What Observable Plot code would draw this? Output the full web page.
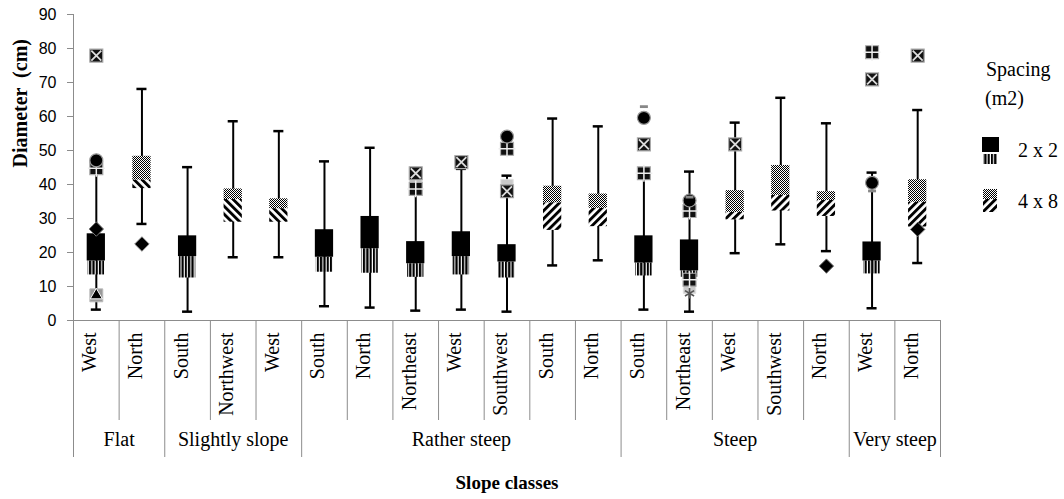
<!DOCTYPE html>
<html><head><meta charset="utf-8">
<script src="https://cdn.jsdelivr.net/npm/d3@7"></script>
<script src="https://cdn.jsdelivr.net/npm/@observablehq/plot@0.6"></script>
<style>
body{margin:0;background:#fff;}
#wrap{position:relative;width:1064px;height:499px;overflow:hidden;}
#chart svg text{white-space:pre;}
.lg{position:absolute;font-family:"Liberation Serif",serif;font-size:20px;color:#000;line-height:1;white-space:pre;}
</style></head>
<body>
<svg width="0" height="0" style="position:absolute">
<defs>
 <pattern id="vstripes" patternUnits="userSpaceOnUse" width="3.3" height="10"><rect width="3.3" height="10" fill="#fff"/><rect width="2.2" height="10" fill="#000"/></pattern>
 <pattern id="dots" patternUnits="userSpaceOnUse" width="2" height="2"><rect width="2" height="2" fill="#fff"/><rect width="1" height="1" fill="#000"/><rect x="1" y="1" width="1" height="1" fill="#000"/></pattern>
 <pattern id="hatchF" patternUnits="userSpaceOnUse" width="5.6" height="10" patternTransform="rotate(45)"><rect width="5.6" height="10" fill="#fff"/><rect width="2.9" height="10" fill="#000"/></pattern>
 <pattern id="hatchB" patternUnits="userSpaceOnUse" width="5.6" height="10" patternTransform="rotate(-45)"><rect width="5.6" height="10" fill="#fff"/><rect width="2.9" height="10" fill="#000"/></pattern>
</defs></svg>
<div id="wrap">
 <div id="chart"></div>
 <div class="lg" style="left:986px;top:59px;">Spacing</div>
 <div class="lg" style="left:985px;top:88px;">(m2)</div>
 <svg style="position:absolute;left:981px;top:136px" width="20" height="30"><rect x="1" y="1" width="17" height="15" fill="#000"/><rect x="2" y="18" width="14" height="10" fill="url(#vstripes)"/></svg>
 <div class="lg" style="left:1018px;top:140px;">2 x 2</div>
 <svg style="position:absolute;left:981px;top:188px" width="20" height="30"><rect x="2" y="1" width="14" height="10" fill="url(#dots)"/><rect x="2" y="11" width="14" height="13" fill="url(#hatchF)"/></svg>
 <div class="lg" style="left:1018px;top:191px;">4 x 8</div>
</div>
<script>
// ---- data ----
const groups = ["Flat","Flat","Slightly slope","Slightly slope","Slightly slope","Rather steep","Rather steep","Rather steep","Rather steep","Rather steep","Rather steep","Rather steep","Steep","Steep","Steep","Steep","Steep","Very steep","Very steep"];
const directions = ["West","North","South","Northwest","West","South","North","Northeast","West","Southwest","South","North","South","Northeast","West","Southwest","North","West","North"];
const spacing = ["2 x 2","4 x 8","2 x 2","4 x 8","4 x 8","2 x 2","2 x 2","2 x 2","2 x 2","2 x 2","4 x 8","4 x 8","2 x 2","2 x 2","4 x 8","4 x 8","4 x 8","2 x 2","4 x 8"];
const whiskerLow  = [3.2, 28.4, 2.6, 18.6, 18.6, 4.2, 3.8, 2.9, 3.2, 2.6, 16.2, 17.7, 3.2, 2.6, 19.8, 22.4, 20.4, 3.6, 16.9];
const q1          = [13.4, 38.8, 12.5, 28.9, 28.9, 14.2, 13.9, 12.7, 13.4, 12.5, 26.5, 27.6, 13.1, 12.7, 29.6, 32.2, 30.6, 13.7, 27.5];
const median      = [17.5, 41.3, 18.8, 35.6, 32.9, 18.6, 21.1, 16.7, 18.8, 17.2, 34.6, 33.0, 16.9, 14.6, 31.8, 36.8, 35.3, 17.5, 34.8];
const q3          = [25.5, 48.3, 24.9, 38.7, 35.8, 26.7, 30.6, 23.2, 26.1, 22.3, 39.5, 37.2, 24.9, 23.7, 38.2, 45.6, 37.9, 23.1, 41.4];
const whiskerHigh = [44.8, 68.1, 45.1, 58.6, 55.7, 46.8, 50.8, 38.7, 44.6, 42.6, 59.4, 57.1, 43.3, 43.8, 58.2, 65.5, 58.0, 43.5, 61.9];
const backslashGroups = ["Flat","Slightly slope"];
const outlierCat   = [0,0,0,0,0, 1, 7,7,7, 8, 9,9,9,9, 12,12,12,12, 13,13,13,13,13,13, 14, 16, 17,17,17,17, 18,18];
const outlierValue = [77.9,47.1,44.8,26.9,7.4, 22.5, 43.3,40.4,38.7, 46.6, 54.1,50.5,39.7,38.0, 62.9,59.6,51.8,43.3, 36.3,35.3,32.2,12.0,9.8,8.0, 51.8, 16.0, 78.9,70.9,40.5,38.1, 77.9,26.8];
const outlierShape = ["xsq","circle","plussq","diamond","trisq", "diamond", "xsq","graysq","plussq", "xsq", "circle","plussq","graysq","xsq", "dash","circle","xsq","plussq", "dash","circle","plussq","plussq","graysq","asterisk", "xsq","diamond", "plussq","xsq","circle","dash", "xsq","diamond"];
const yTicks = [0,10,20,30,40,50,60,70,80,90];
const yTitle = "Diameter  (cm)";
const xTitle = "Slope classes";

// ---- layout ----
const W = 1064, H = 499, ML = 73, MR = 124, MT = 14, MB = 179;
const N = directions.length;
const YMAX = 90;
const pxPerUnit = (H - MB - MT) / YMAX;
const belowAxis = px => -px / pxPerUnit;   // data value px pixels below the zero line
const BOX = 0.2, STRIPE = 0.18, CAP = 0.11;
const GRAY = "#8c8c8c";
const SERIF = "Liberation Serif";

const boxes = d3.range(N).map(i => ({i, group: groups[i], dir: directions[i], sp: spacing[i],
  lo: whiskerLow[i], q1: q1[i], med: median[i], q3: q3[i], hi: whiskerHigh[i]}));
const b22 = boxes.filter(d => d.sp === "2 x 2");
const b48 = boxes.filter(d => d.sp === "4 x 8");
const outliers = outlierCat.map((c, k) => ({i: c, v: outlierValue[k], s: outlierShape[k]}));
const sh = s => outliers.filter(d => d.s === s);

const catBounds = [], groupBounds = [-0.5, N - 0.5];
for (let i = 1; i < N; i++) (groups[i] === groups[i-1] ? catBounds : groupBounds).push(i - 0.5);
const groupNames = [...new Set(groups)];
const groupLabels = groupNames.map(g => {
  const ids = d3.range(N).filter(i => groups[i] === g);
  return {g, c: (ids[0] + ids[ids.length - 1]) / 2};
});

const dashSymbol = {draw(ctx, size) { const r = Math.sqrt(size / Math.PI);
  ctx.moveTo(-r, -r*0.35); ctx.lineTo(r, -r*0.35); ctx.lineTo(r, r*0.35); ctx.lineTo(-r, r*0.35); ctx.closePath(); }};

const plot = Plot.plot({
  width: W, height: H,
  marginLeft: ML, marginRight: MR, marginTop: MT, marginBottom: MB,
  style: {fontFamily: SERIF, fontSize: "20px", background: "#fff", overflow: "visible"},
  x: {type: "linear", domain: [-0.5, N - 0.5], axis: null},
  y: {domain: [0, YMAX], axis: null},
  marks: [
    // table lines
    Plot.ruleX(catBounds, {y1: 0, y2: belowAxis(100), stroke: GRAY}),
    Plot.ruleX(groupBounds, {y1: 0, y2: belowAxis(137), stroke: GRAY}),
    Plot.ruleX([-0.5], {stroke: GRAY}),
    Plot.ruleY([0], {stroke: GRAY}),
    Plot.axisY(yTicks, {tickSize: 6, tickPadding: 11, stroke: GRAY, fill: "#000", fontFamily: "Liberation Sans", fontSize: 16, label: null}),
    // whiskers
    Plot.ruleX(boxes, {x: "i", y1: "lo", y2: "hi", stroke: "#000", strokeWidth: 2}),
    Plot.ruleY(boxes, {y: "lo", x1: d => d.i - CAP, x2: d => d.i + CAP, stroke: "#000", strokeWidth: 2.5}),
    Plot.ruleY(boxes, {y: "hi", x1: d => d.i - CAP, x2: d => d.i + CAP, stroke: "#000", strokeWidth: 2.5}),
    // boxes 2 x 2
    Plot.rect(b22, {x1: d => d.i - STRIPE, x2: d => d.i + STRIPE, y1: "q1", y2: "med", fill: "url(#vstripes)"}),
    Plot.rect(b22, {x1: d => d.i - BOX, x2: d => d.i + BOX, y1: "med", y2: "q3", fill: "#000"}),
    // boxes 4 x 8
    Plot.rect(b48.filter(d => !backslashGroups.includes(d.group)), {x1: d => d.i - BOX, x2: d => d.i + BOX, y1: "q1", y2: "med", fill: "url(#hatchF)"}),
    Plot.rect(b48.filter(d => backslashGroups.includes(d.group)), {x1: d => d.i - BOX, x2: d => d.i + BOX, y1: "q1", y2: "med", fill: "url(#hatchB)"}),
    Plot.rect(b48, {x1: d => d.i - BOX, x2: d => d.i + BOX, y1: "med", y2: "q3", fill: "url(#dots)"}),
    // outliers
    Plot.dot(sh("graysq"), {x: "i", y: "v", symbol: "square", r: 7, fill: "#c9c9c9", stroke: "#e0e0e0", strokeWidth: 1}),
    Plot.dot(sh("trisq"), {x: "i", y: "v", symbol: "square", r: 7.3, fill: "#9a9a9a", stroke: "#bbb", strokeWidth: 1}),
    Plot.dot(sh("trisq"), {x: "i", y: "v", symbol: "triangle", r: 4.5, fill: "#000", stroke: "#fff", strokeWidth: 1}),
    Plot.dot(sh("xsq"), {x: "i", y: "v", symbol: "square", r: 7.3, fill: "#111", stroke: "#aaa", strokeWidth: 1.2}),
    Plot.dot(sh("xsq"), {x: "i", y: "v", symbol: "times", r: 4.6, fill: "none", stroke: "#ddd", strokeWidth: 1.8}),
    Plot.dot(sh("plussq"), {x: "i", y: "v", symbol: "square", r: 7.3, fill: "#111", stroke: "#aaa", strokeWidth: 1.2}),
    Plot.dot(sh("plussq"), {x: "i", y: "v", symbol: "plus", r: 5.5, fill: "none", stroke: "#eee", strokeWidth: 1.5}),
    Plot.dot(sh("circle"), {x: "i", y: "v", symbol: "circle", r: 6.5, fill: "#000", stroke: "#999", strokeWidth: 1.2}),
    Plot.dot(sh("diamond"), {x: "i", y: "v", symbol: "diamond2", r: 6.5, fill: "#000", stroke: "#777", strokeWidth: 1}),
    Plot.dot(sh("dash"), {x: "i", y: "v", symbol: dashSymbol, r: 4, fill: "#888", stroke: "none"}),
    Plot.dot(sh("asterisk"), {x: "i", y: "v", symbol: "asterisk", r: 5, fill: "none", stroke: "#555", strokeWidth: 1.6}),
    // labels
    Plot.text(boxes, {x: "i", text: "dir", frameAnchor: "bottom", dy: 12, rotate: -90, textAnchor: "end", fontFamily: SERIF, fontSize: 20, fill: "#000"}),
    Plot.text(groupLabels, {x: "c", text: "g", frameAnchor: "bottom", dy: 125, fontFamily: SERIF, fontSize: 20, fill: "#000"}),
    Plot.text([xTitle], {text: d => d, frameAnchor: "bottom", dy: 168, fontFamily: SERIF, fontSize: 19, fontWeight: "bold", fill: "#000"}),
    Plot.text([yTitle], {text: d => d, frameAnchor: "left", dx: -53, rotate: -90, fontFamily: SERIF, fontSize: 20, fontWeight: "bold", fill: "#000"})
  ]
});
document.getElementById("chart").append(plot);
</script>
</body></html>
